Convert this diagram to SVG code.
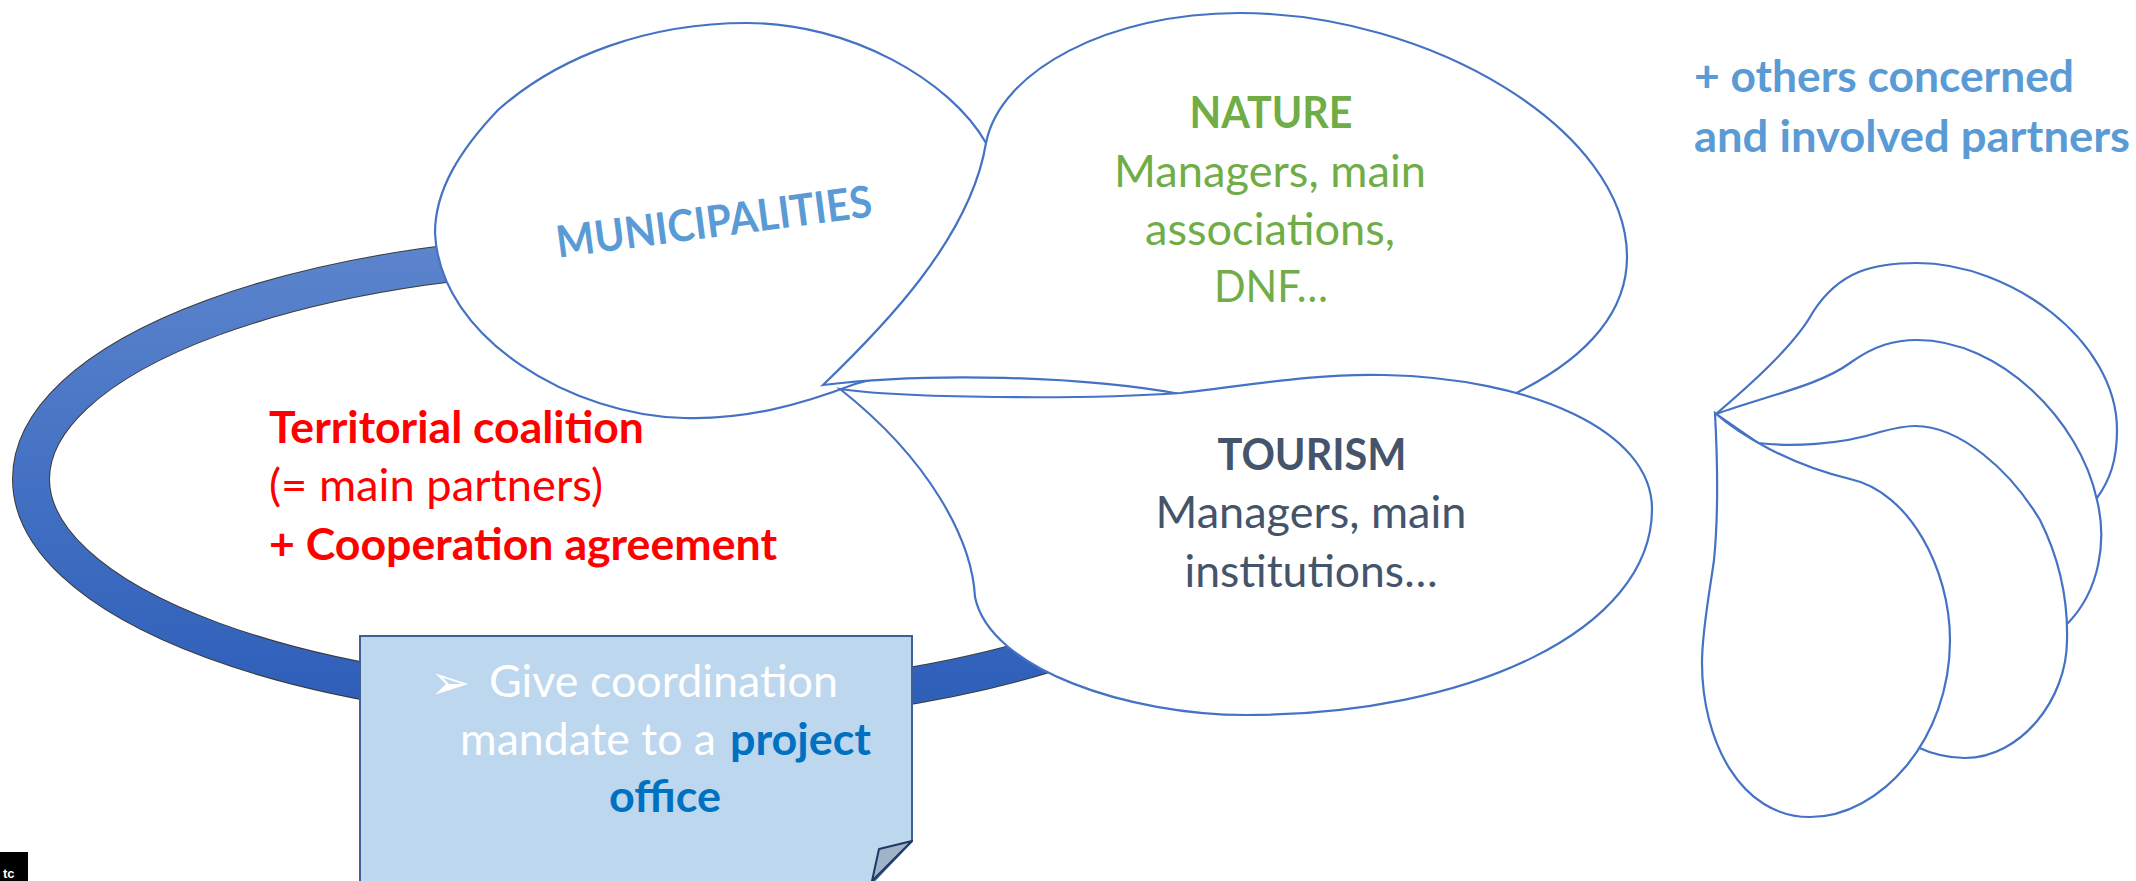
<svg xmlns="http://www.w3.org/2000/svg" width="2136" height="881" viewBox="0 0 2136 881">
<defs>
<linearGradient id="ringGrad" gradientUnits="userSpaceOnUse" x1="0" y1="250" x2="0" y2="710">
<stop offset="0" stop-color="#5b84cc"/>
<stop offset="1" stop-color="#2d5eb9"/>
</linearGradient>
<style>
.bub{fill:#ffffff;stroke:#4472c4;stroke-width:2.2;stroke-linejoin:miter}
.t{font-family:Lato,"Open Sans","Liberation Sans",sans-serif}
.b{font-weight:bold}
.mid{text-anchor:middle}
.nat{fill:#70ad47;font-size:44px}
.tour{fill:#44546a;font-size:44px}
.red{fill:#ff0000;font-size:44px}
.oth{fill:#5b9bd5;font-size:44px}
.box{fill:#ffffff;font-size:44px}
.proj{fill:#0070c0;font-size:44px}
</style>
</defs>
<rect width="2136" height="881" fill="#ffffff"/>

<g id="ring">
<ellipse cx="650" cy="479" rx="619" ry="228" fill="none" stroke="#3a3a3a" stroke-width="38"/>
<ellipse cx="650" cy="479" rx="619" ry="228" fill="none" stroke="url(#ringGrad)" stroke-width="36"/>
</g>

<g id="coalition-text">
<text class="t b red" x="269" y="443" textLength="375" lengthAdjust="spacingAndGlyphs">Territorial coalition</text>
<text class="t red" x="269" y="501" textLength="334" lengthAdjust="spacingAndGlyphs">(= main partners)</text>
<text class="t b red" x="269" y="560" textLength="508" lengthAdjust="spacingAndGlyphs">+ Cooperation agreement</text>
</g>

<g id="project-office">
<path d="M360,636 L912,636 L912,841 L872,883 L360,883 Z" fill="#bdd7ee" stroke="#3f5f96" stroke-width="2"/>
<polygon points="912,841 879,849 872,881" fill="#9fb3c9" stroke="#1f3864" stroke-width="2" stroke-linejoin="round"/>
<text x="430" y="699" font-family="DejaVu Sans,sans-serif" font-size="48" fill="#ffffff">➢</text>
<text class="t box" x="489" y="697" textLength="349" lengthAdjust="spacingAndGlyphs">Give coordination</text>
<text class="t box" x="460" y="755" textLength="256" lengthAdjust="spacingAndGlyphs">mandate to a</text>
<text class="t b proj" x="730" y="755" textLength="141" lengthAdjust="spacingAndGlyphs">project</text>
<text class="t b proj" x="609" y="812" textLength="112" lengthAdjust="spacingAndGlyphs">office</text>
</g>

<g id="municipalities">
<path class="bub" d="M498,110 C560,55 650,23 747,23 C850,23 950,80 986,143 C1010,200 960,330 870,380 L855,384 C800,405 745,420 684,418 C575,416 440,340 435,233 C435,190 460,150 498,110 Z"/>
<text class="t b mid" x="716" y="237" font-size="44" fill="#5b9bd5" textLength="318" lengthAdjust="spacingAndGlyphs" transform="rotate(-7.5 716 237)">MUNICIPALITIES</text>
</g>

<g id="nature">
<path class="bub" d="M986,143 C1000,70 1110,13 1239,13 C1430,13 1627,130 1627,257 C1627,310 1590,355 1522,390 L1450,430 L1180,394 C1080,376 930,372 823,385 C880,330 970,240 986,143 Z"/>
<text class="t b mid nat" x="1271" y="128" textLength="163" lengthAdjust="spacingAndGlyphs">NATURE</text>
<text class="t mid nat" x="1270" y="187" textLength="312" lengthAdjust="spacingAndGlyphs">Managers, main</text>
<text class="t mid nat" x="1270" y="245" textLength="250" lengthAdjust="spacingAndGlyphs">associations,</text>
<text class="t mid nat" x="1271" y="302" textLength="114" lengthAdjust="spacingAndGlyphs">DNF…</text>
</g>

<g id="tourism">
<path class="bub" d="M840,389 C900,398 1080,400 1181,393 C1250,385 1320,373 1384,375 C1530,378 1652,430 1652,509 C1652,630 1470,715 1246,715 C1130,715 990,670 975,597 C972,540 930,460 840,389 Z"/>
<text class="t b mid tour" x="1312" y="470" textLength="189" lengthAdjust="spacingAndGlyphs">TOURISM</text>
<text class="t mid tour" x="1311" y="528" textLength="311" lengthAdjust="spacingAndGlyphs">Managers, main</text>
<text class="t mid tour" x="1311" y="587" textLength="253" lengthAdjust="spacingAndGlyphs">institutions…</text>
</g>

<g id="others-label">
<text class="t b oth" x="1694" y="92" textLength="380" lengthAdjust="spacingAndGlyphs">+ others concerned</text>
<text class="t b oth" x="1694" y="152" textLength="436" lengthAdjust="spacingAndGlyphs">and involved partners</text>
</g>

<g id="others-bubbles">
<path class="bub" d="M1716,414 C1750,385 1795,345 1813,312 C1840,270 1875,263 1917,263 C2010,263 2117,340 2117,430 C2117,460 2110,480 2097,498 L2060,540 L1900,600 L1725,432 Z"/>
<path class="bub" d="M1716,414 C1770,395 1820,385 1850,363 C1875,345 1895,340 1917,340 C2000,340 2080,420 2097,500 C2107,540 2100,590 2068,623 L1950,660 L1725,432 Z"/>
<path class="bub" d="M1716,414 L1758,443 C1790,447 1840,445 1880,432 C1895,428 1905,426 1915,426 C1960,426 2010,470 2040,520 C2060,560 2068,600 2067,640 C2067,700 2020,758 1965,758 C1948,758 1930,753 1917,747 L1880,650 L1725,432 Z"/>
<path class="bub" d="M1715,413 C1740,435 1790,465 1850,479 C1910,492 1950,570 1950,640 C1950,740 1880,817 1810,817 C1740,817 1702,740 1702,663 C1702,630 1710,590 1714,560 C1718,520 1718,470 1715,413 Z"/>
</g>

<g id="corner-tag">
<rect x="0" y="852" width="28" height="29" fill="#000000"/>
<text x="3" y="878" font-family="Liberation Sans,sans-serif" font-weight="bold" font-size="13" fill="#ffffff">tc</text>
</g>
</svg>
